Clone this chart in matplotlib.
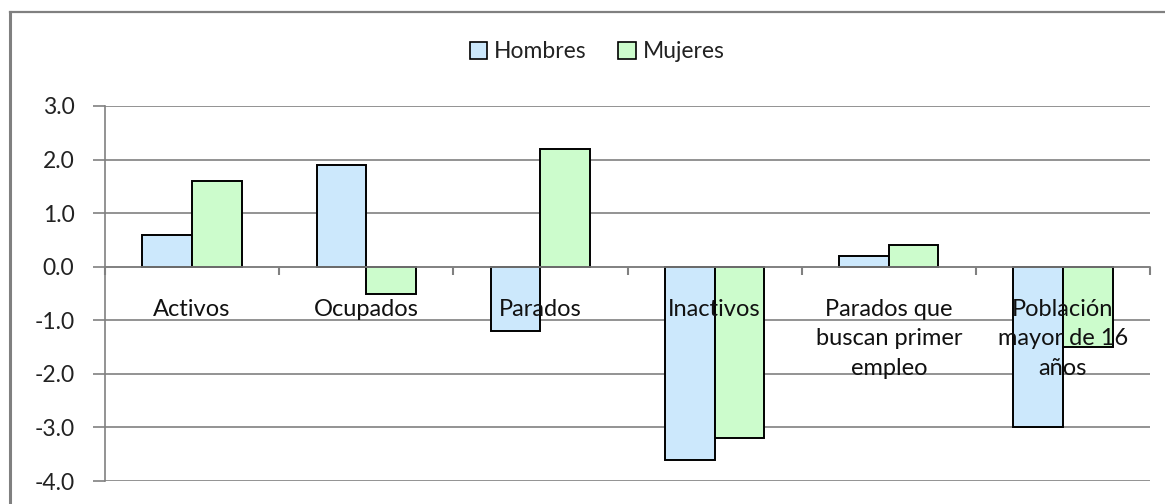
import matplotlib
matplotlib.use("Agg")
import matplotlib.pyplot as plt
import numpy as np
from matplotlib.patches import Rectangle
from matplotlib.lines import Line2D

categories = ["Activos", "Ocupados", "Parados", "Inactivos",
              "Parados que\nbuscan primer\nempleo", "Población\nmayor de 16\naños"]
hombres = [0.6, 1.9, -1.2, -3.6, 0.2, -3.0]
mujeres = [1.6, -0.5, 2.2, -3.2, 0.4, -1.5]
series_names = ["Hombres", "Mujeres"]
yticks = [3.0, 2.0, 1.0, 0.0, -1.0, -2.0, -3.0, -4.0]

plt.rcParams['font.family'] = ['Lato', 'DejaVu Sans']

W, H = 1165, 504
fig = plt.figure(figsize=(W / 100, H / 100), dpi=100)
fig.patch.set_facecolor("white")

# outer chart border (top-left visible)
fig.add_artist(Line2D([10 / W, 10 / W], [0, 1 - 12 / H], transform=fig.transFigure,
                      color="#808080", lw=2.2))
fig.add_artist(Line2D([10 / W, 1], [1 - 12 / H, 1 - 12 / H], transform=fig.transFigure,
                      color="#808080", lw=1.6))

left, right = 105 / W, 1150 / W
top, bottom = 1 - 106 / H, 1 - 481 / H
ax = fig.add_axes([left, bottom, right - left, top - bottom])
ax.set_facecolor("none")

x = np.arange(len(categories))
bw = 0.285
blue = "#CCE8FC"
green = "#CCFCCC"
ax.bar(x - bw / 2, hombres, width=bw, color=blue, edgecolor="black", linewidth=1.4,
       label=series_names[0], zorder=2)
ax.bar(x + bw / 2, mujeres, width=bw, color=green, edgecolor="black", linewidth=1.4,
       label=series_names[1], zorder=2)

ax.set_xlim(-0.5, len(categories) - 0.5)
ax.set_ylim(-4, 3)
ax.set_yticks(yticks)
ax.set_yticklabels([f"{v:.1f}" for v in yticks], fontsize=16.5, color="#222222")
ax.yaxis.grid(True, color="#808080", lw=1.2, zorder=0)
ax.set_axisbelow(True)
ax.tick_params(axis="y", length=9, width=1.2, color="#808080", pad=13)

for s in ["top", "right"]:
    ax.spines[s].set_visible(False)
ax.spines["left"].set_color("#808080")
ax.spines["left"].set_linewidth(1.2)
ax.spines["bottom"].set_position(("data", 0))
ax.spines["bottom"].set_color("#808080")
ax.spines["bottom"].set_linewidth(1.2)

ax.set_xticks(np.arange(-0.5, len(categories), 1.0))
ax.set_xticklabels([])
ax.tick_params(axis="x", length=6, width=1.5, color="#808080", direction="out")

for xi, lab in zip(x, categories):
    ax.annotate(lab, xy=(xi, 0), xytext=(0, -23), textcoords="offset points",
                ha="center", va="top", fontsize=17, color="#111111",
                linespacing=1.5, zorder=3)

handles = [Rectangle((0, 0), 1, 1, facecolor=blue, edgecolor="black", lw=1.2),
           Rectangle((0, 0), 1, 1, facecolor=green, edgecolor="black", lw=1.2)]
fig.legend(handles, series_names, loc="center", bbox_to_anchor=(597 / W, 1 - 52 / H),
           ncol=2, frameon=False, fontsize=16.5, handlelength=0.75, handleheight=0.75,
           handletextpad=0.3, columnspacing=1.4, labelcolor="#222222")

fig.savefig("out.png", dpi=100, facecolor="white")
